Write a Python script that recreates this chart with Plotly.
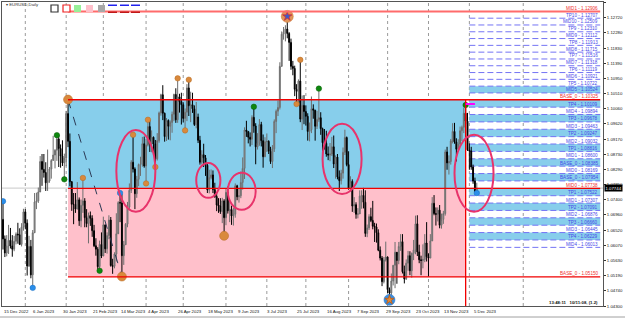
import plotly.graph_objects as go
import pandas as pd

# ---------------- data: EURUSD daily (15 Dec 2022 .. 7 Dec 2023) ----------------
first_open = 1.0683
closes = [
    1.0626,1.0585,1.0605,1.0622,1.0605,1.0596,1.0619,1.0640,1.0638,1.0610,1.0661,1.0705,
    1.0672,1.0547,1.0604,1.0521,1.0644,1.0734,1.0737,1.0763,1.0852,1.0829,1.0820,1.0790,1.0795,1.0830,1.0855,1.0871,1.0885,1.0918,1.0890,1.0868,1.0848,1.0862,
    1.0992,1.0911,1.0793,1.0727,1.0727,1.0713,1.0740,1.0679,1.0724,1.0737,1.0688,1.0671,1.0694,1.0686,1.0650,1.0606,1.0596,1.0545,1.0610,1.0576,
    1.0667,1.0597,1.0636,1.0681,1.0548,1.0546,1.0582,1.0641,1.0732,1.0731,1.0577,1.0609,1.0669,1.0719,1.0768,1.0850,1.0830,1.0758,1.0800,1.0843,1.0844,1.0904,1.0839,
    1.0900,1.0954,1.0903,1.0923,1.0903,1.0860,1.0913,1.0994,1.1047,1.0993,1.0925,1.0972,1.0955,1.0966,1.0990,1.1048,1.0974,1.1041,1.1027,1.1018,
    1.0978,1.0996,1.1067,1.1015,1.1018,1.1006,1.0960,1.0982,1.0914,1.0850,1.0872,1.0863,1.0841,1.0769,1.0805,1.0813,1.0770,1.0750,1.0725,1.0722,1.0706,1.0737,1.0688,
    1.0762,1.0708,1.0712,1.0693,1.0698,1.0781,1.0749,1.0752,1.0791,1.0832,1.0944,1.0940,1.0923,1.0917,1.0981,1.0956,1.0895,1.0905,1.0960,1.0913,1.0866,1.0910,
    1.0911,1.0882,1.0852,1.0889,1.0969,1.0999,1.1010,1.1130,1.1224,1.1230,1.1239,1.1226,1.1200,1.1130,1.1124,1.1063,1.1057,1.1087,1.0976,1.1016,1.0998,
    1.0984,1.0940,1.0945,1.1006,1.1002,1.0955,1.0975,1.0980,1.0948,1.0907,1.0905,1.0874,1.0871,1.0874,1.0895,1.0845,1.0865,1.0807,1.0796,1.0818,1.0879,1.0922,1.0843,
    1.0772,1.0794,1.0722,1.0726,1.0698,1.0699,1.0751,1.0753,1.0733,1.0642,1.0658,1.0691,1.0680,1.0663,1.0661,1.0644,1.0593,1.0570,1.0501,1.0565,1.0573,
    1.0478,1.0468,1.0503,1.0549,1.0587,1.0563,1.0604,1.0618,1.0530,1.0509,1.0555,1.0577,1.0533,1.0584,1.0594,1.0670,1.0588,1.0565,1.0563,1.0566,1.0614,1.0574,
    1.0570,1.0620,1.0730,1.0700,1.0698,1.0710,1.0666,1.0683,1.0700,1.0880,1.0848,1.0852,1.0912,1.0940,1.0909,1.0888,1.0903,1.0942,1.0952,1.0993,1.0970,1.0886,
    1.0883,1.0836,1.0795,1.0763,1.0774,
]
highs = [
    1.0736,1.0636,1.0637,1.0667,1.0658,1.0637,1.0635,1.0645,1.0673,1.0657,1.0672,1.0714,
    1.0713,1.0683,1.0635,1.0623,1.0652,1.0760,1.0761,1.0776,1.0868,1.0874,1.0874,1.0850,1.0887,1.0836,1.0859,1.0927,1.0888,1.0929,1.0929,1.0902,1.0914,1.0875,
    1.1000,1.1033,1.0934,1.0795,1.0760,1.0760,1.0792,1.0747,1.0741,1.0804,1.0745,1.0713,1.0703,1.0706,1.0695,1.0667,1.0628,1.0602,1.0621,1.0645,
    1.0691,1.0667,1.0645,1.0695,1.0690,1.0568,1.0587,1.0701,1.0736,1.0760,1.0757,1.0620,1.0672,1.0734,1.0788,1.0856,1.0930,1.0835,1.0810,1.0846,1.0866,1.0924,1.0925,
    1.0918,1.0974,1.0974,1.0943,1.0925,1.0915,1.0935,1.0998,1.1050,1.1075,1.0995,1.0979,1.0975,1.0972,1.0998,1.1050,1.1066,1.1095,1.1050,1.1053,
    1.1025,1.1007,1.1078,1.1091,1.1056,1.1053,1.1016,1.1026,1.0992,1.0927,1.0885,1.0904,1.0871,1.0847,1.0828,1.0829,1.0826,1.0790,1.0762,1.0745,1.0745,1.0746,1.0742,
    1.0772,1.0779,1.0734,1.0723,1.0717,1.0788,1.0784,1.0774,1.0823,1.0864,1.0952,1.0971,1.0940,1.0937,1.0987,1.1012,1.0964,1.0935,1.0976,1.0968,1.0931,1.0923,
    1.0934,1.0914,1.0895,1.0900,1.0975,1.1004,1.1030,1.1142,1.1232,1.1245,1.1250,1.1276,1.1230,1.1211,1.1146,1.1132,1.1078,1.1092,1.1149,1.1045,1.1046,
    1.1016,1.0993,1.0966,1.1042,1.1019,1.1003,1.1000,1.1065,1.0996,1.0951,1.0947,1.0942,1.0896,1.0906,1.0924,1.0928,1.0870,1.0874,1.0826,1.0828,1.0893,1.0945,1.0925,
    1.0882,1.0809,1.0800,1.0748,1.0733,1.0716,1.0768,1.0768,1.0775,1.0768,1.0668,1.0698,1.0717,1.0737,1.0673,1.0671,1.0654,1.0604,1.0576,1.0573,1.0618,
    1.0575,1.0484,1.0525,1.0549,1.0617,1.0578,1.0617,1.0640,1.0640,1.0548,1.0566,1.0591,1.0590,1.0586,1.0623,1.0694,1.0695,1.0609,1.0577,1.0610,1.0640,1.0675,
    1.0584,1.0640,1.0748,1.0754,1.0718,1.0718,1.0725,1.0700,1.0708,1.0887,1.0895,1.0870,1.0918,1.0964,1.0965,1.0920,1.0917,1.0954,1.0957,1.1009,1.1017,1.0994,
    1.0905,1.0895,1.0843,1.0805,1.0790,
]
lows = [
    1.0595,1.0573,1.0575,1.0582,1.0598,1.0574,1.0590,1.0610,1.0612,1.0608,1.0604,1.0650,
    1.0654,1.0519,1.0544,1.0511,1.0483,1.0646,1.0713,1.0731,1.0764,1.0781,1.0805,1.0766,1.0766,1.0790,1.0802,1.0855,1.0832,1.0854,1.0836,1.0834,1.0839,1.0800,
    1.0838,1.0894,1.0780,1.0708,1.0669,1.0702,1.0713,1.0664,1.0660,1.0702,1.0660,1.0660,1.0613,1.0664,1.0632,1.0602,1.0577,1.0536,1.0533,1.0570,
    1.0577,1.0585,1.0583,1.0625,1.0545,1.0524,1.0540,1.0560,1.0645,1.0675,1.0516,1.0550,1.0610,1.0660,1.0710,1.0760,1.0820,1.0713,1.0746,1.0780,1.0810,1.0837,1.0834,
    1.0788,1.0896,1.0880,1.0879,1.0878,1.0836,1.0855,1.0907,1.0986,1.0973,1.0910,1.0912,1.0916,1.0914,1.0936,1.0970,1.0965,1.0965,1.0995,1.0960,
    1.0966,1.0943,1.0970,1.0985,1.0967,1.0994,1.0956,1.0949,1.0906,1.0843,1.0844,1.0836,1.0810,1.0760,1.0759,1.0800,1.0760,1.0746,1.0707,1.0702,1.0699,1.0672,1.0635,
    1.0666,1.0700,1.0675,1.0667,1.0665,1.0688,1.0739,1.0732,1.0745,1.0770,1.0801,1.0924,1.0905,1.0896,1.0900,1.0936,1.0844,1.0887,1.0898,1.0896,1.0834,1.0865,
    1.0880,1.0874,1.0845,1.0833,1.0880,1.0935,1.0985,1.1004,1.1132,1.1208,1.1203,1.1212,1.1146,1.1120,1.1104,1.1043,1.1020,1.1022,1.0967,1.0944,1.0961,
    1.0957,1.0913,1.0911,1.0935,1.0977,1.0913,1.0947,1.0968,1.0930,1.0878,1.0887,1.0866,1.0856,1.0853,1.0868,1.0833,1.0802,1.0800,1.0766,1.0785,1.0802,1.0871,1.0838,
    1.0770,1.0770,1.0705,1.0702,1.0685,1.0686,1.0700,1.0714,1.0715,1.0632,1.0631,1.0652,1.0675,1.0654,1.0617,1.0615,1.0590,1.0563,1.0488,1.0496,1.0560,
    1.0468,1.0448,1.0448,1.0490,1.0482,1.0495,1.0552,1.0591,1.0525,1.0496,1.0506,1.0533,1.0520,1.0513,1.0564,1.0581,1.0576,1.0555,1.0520,1.0540,1.0558,1.0560,
    1.0516,1.0570,1.0621,1.0695,1.0665,1.0677,1.0657,1.0656,1.0670,1.0694,1.0828,1.0814,1.0843,1.0905,1.0904,1.0852,1.0887,1.0898,1.0912,1.0935,1.0961,1.0883,
    1.0828,1.0828,1.0787,1.0765,1.0760,
]
current_price = 1.07744

# time-axis labels
x_label_dates = ["2022-12-15","2023-01-06","2023-01-30","2023-02-21","2023-03-14","2023-04-04",
                 "2023-04-26","2023-05-18","2023-06-09","2023-07-03","2023-07-25","2023-08-16",
                 "2023-09-07","2023-09-29","2023-10-23","2023-11-13","2023-12-05"]
x_label_texts = ["15 Dec 2022","6 Jan 2023","30 Jan 2023","21 Feb 2023","14 Mar 2023","4 Apr 2023",
                 "26 Apr 2023","18 May 2023","9 Jun 2023","3 Jul 2023","25 Jul 2023","16 Aug 2023",
                 "7 Sep 2023","29 Sep 2023","23 Oct 2023","13 Nov 2023","5 Dec 2023"]
separator_dates = ["2023-01-02","2023-02-01","2023-03-01","2023-04-03","2023-05-01","2023-06-01",
                   "2023-07-03","2023-08-01","2023-09-01","2023-10-02","2023-11-01","2023-12-01","2024-01-01"]

# price-axis labels
y_ticks = [1.13180,1.12720,1.12280,1.11830,1.11390,1.10950,1.10510,1.10060,1.09620,1.09170,
           1.08730,1.08290,1.07850,1.07400,1.06960,1.06520,1.06070,1.05630,1.05190,1.04740,1.04300]

# swing markers
marker_dates = ["2022-12-15","2023-01-06","2023-01-25","2023-01-31","2023-02-02","2023-02-14",
                "2023-02-27","2023-03-15","2023-03-14","2023-03-23","2023-04-03","2023-04-04",
                "2023-04-10","2023-04-26","2023-05-02","2023-05-04","2023-05-31","2023-06-22",
                "2023-07-18","2023-07-25","2023-07-27","2023-08-10","2023-10-03","2023-11-29","2023-12-07"]
marker_prices = [1.0736,1.0483,1.0929,1.0800,1.1033,1.0804,
                 1.0533,1.0516,1.0760,1.0930,1.0788,1.0974,
                 1.0836,1.1095,1.0943,1.1091,1.0635,1.1012,
                 1.1276,1.1020,1.1149,1.1065,1.0448,1.1017,1.0760]
marker_kinds = ["blue","blue","green","green","orange_big","orange",
                "green","orange_big","blue","orange","orange","orange",
                "orange","orange","orange","orange","orange_big","green",
                "star_orange","orange","orange","green","star_blue","green","blue"]

# zone / level structure
zone_start, zone_end = "2023-02-02", "2023-11-29"
base_hi, mid0, base_lo, top_mid = 1.10325, 1.07738, 1.05150, 1.12906
level_names = ["MID1","TP10","MID10","TP9","MID9","TP8","MID8","TP7","MID7","TP6","MID6","TP5","MID5",
               "BASE_0","TP4","MID4","TP3","MID3","TP2","MID2","TP1","MID1","BASE_0","MID0","BASE_0",
               "MID0","TP1","MID1","TP2","MID2","TP3","MID3","TP4","MID4","BASE_0"]
level_values = [1.12906,1.12707,1.12509,1.12310,1.12112,1.11913,1.11715,1.11516,1.11318,1.11119,1.10921,1.10722,1.10524,
                1.10325,1.10109,1.09894,1.09678,1.09463,1.09247,1.09032,1.08816,1.08600,1.08385,1.08169,1.07954,
                1.07738,1.07522,1.07307,1.07091,1.06876,1.06660,1.06445,1.06229,1.06013,1.05150]
red_level_values = [1.12906, 1.10325, 1.07738, 1.05150]

# hand-drawn ellipses: (start date, end date, low price, high price)
ellipse_start = ["2023-03-10","2023-05-10","2023-06-02","2023-08-14","2023-11-21"]
ellipse_end   = ["2023-04-10","2023-05-29","2023-06-23","2023-09-12","2023-12-16"]
ellipse_low   = [1.0705,1.0746,1.0711,1.0757,1.0705]
ellipse_high  = [1.0944,1.0848,1.0819,1.0962,1.0930]

trend_dates = ["2023-02-02","2023-03-15"]
trend_prices = [1.1033, 1.0516]
magenta_dates = ["2023-11-29","2023-12-06"]
magenta_price = 1.1020

# ---------------- helpers ----------------
n = len(closes)
dates = pd.bdate_range("2022-12-15", periods=n)
pos = {d: i for i, d in enumerate(dates)}


def xi(d):
    d = pd.Timestamp(d)
    if d in pos:
        return pos[d]
    return n - 1 + (d - dates[-1]).days


opens = [first_open] + closes[:-1]
x = list(range(n))

W, H = 625, 319
ML, MR, MT, MB = 2, 22, 2, 13
PX_PER_BAR = 1.858
X0 = -0.54
X1 = X0 + (W - ML - MR) / PX_PER_BAR
Y0, Y1 = 1.0430, 1.1318
FONT = "Liberation Sans Narrow, Liberation Sans, Arial, sans-serif"


def px2paper(px, py):
    return (px - ML) / (W - ML - MR), 1 - (py - MT) / (H - MT - MB)


fig = go.Figure()

fig.add_trace(go.Candlestick(
    x=x, open=opens, high=highs, low=lows, close=closes,
    increasing=dict(line=dict(color="#6E6E6E", width=1), fillcolor="#A8A8A8"),
    decreasing=dict(line=dict(color="#000000", width=1), fillcolor="#000000"),
    whiskerwidth=0, showlegend=False, hoverinfo="skip"))

# trend dashed line
fig.add_trace(go.Scatter(x=[xi(d) for d in trend_dates], y=trend_prices, mode="lines",
                         line=dict(color="#2B3A55", width=1, dash="dash"),
                         showlegend=False, hoverinfo="skip"))

# markers
style = {
    "orange": dict(color="#D9893C", size=5.5, line=dict(color="#B56A22", width=0.5)),
    "orange_big": dict(color="#D9893C", size=9, line=dict(color="#B56A22", width=0.5)),
    "green": dict(color="#0E870E", size=5.5, line=dict(color="#0A5F0A", width=0.5)),
    "blue": dict(color="#2A8EEA", size=5.5, line=dict(color="#1A6FC0", width=0.5)),
    "star_orange": dict(color="#E0955A", size=12, line=dict(color="#C47530", width=0.5)),
    "star_blue": dict(color="#3A8EE0", size=11, line=dict(color="#2A70C0", width=0.5)),
}
for kind, st in style.items():
    xs = [xi(d) for d, k in zip(marker_dates, marker_kinds) if k == kind]
    ys = [p for p, k in zip(marker_prices, marker_kinds) if k == kind]
    if xs:
        fig.add_trace(go.Scatter(x=xs, y=ys, mode="markers", marker=dict(symbol="circle", **st),
                                 showlegend=False, hoverinfo="skip"))
for kind, col, lc in [("star_orange", "#3A5CCB", "#E0302A"), ("star_blue", "#E08A3A", "#C05A10")]:
    xs = [xi(d) for d, k in zip(marker_dates, marker_kinds) if k == kind]
    ys = [p for p, k in zip(marker_prices, marker_kinds) if k == kind]
    fig.add_trace(go.Scatter(x=xs, y=ys, mode="markers",
                             marker=dict(symbol="star", size=7, color=col, line=dict(color=lc, width=0.8)),
                             showlegend=False, hoverinfo="skip"))

shapes = []
zs, ze = xi(zone_start), xi(zone_end)
# month separators (under the zones)
for d in separator_dates:
    xv = xi(d)
    shapes.append(dict(type="line", xref="x", yref="paper", x0=xv, x1=xv, y0=0, y1=1,
                       line=dict(color="#9A9A9A", width=1, dash="dot"), layer="below"))
# zones
shapes.append(dict(type="rect", xref="x", yref="y", x0=zs, x1=ze, y0=mid0, y1=base_hi,
                   fillcolor="#87CEEB", line=dict(width=0), layer="below"))
shapes.append(dict(type="rect", xref="x", yref="y", x0=zs, x1=ze, y0=base_lo, y1=mid0,
                   fillcolor="#FFC0CB", line=dict(width=0), layer="below"))
# right-hand level bands + dashed lines
band_start = xi("2023-12-01")
band_pairs = list(range(11, 32, 2))
for i in band_pairs:
    shapes.append(dict(type="rect", xref="x", yref="y", x0=band_start, x1=X1 - 1.5,
                       y0=level_values[i + 1], y1=level_values[i],
                       fillcolor="#87CEEB", line=dict(width=0), layer="below"))
for name, v in zip(level_names, level_values):
    if v in red_level_values:
        continue
    shapes.append(dict(type="line", xref="x", yref="y", x0=band_start, x1=X1 - 1.5, y0=v, y1=v,
                       line=dict(color="#7474F4", width=1, dash="6px,3px"), layer="below"))
# current price line
shapes.append(dict(type="line", xref="paper", yref="y", x0=0, x1=1, y0=current_price, y1=current_price,
                   line=dict(color="#C8C8C8", width=1), layer="below"))
# red level lines
for v in red_level_values:
    col, wd = ("#FF6B6B", 2) if v == top_mid else ("#F00000", 1.3)
    shapes.append(dict(type="line", xref="x", yref="y", x0=zs, x1=X1 - 1.5, y0=v, y1=v,
                       line=dict(color=col, width=wd)))
# vertical red line at zone end
shapes.append(dict(type="line", xref="x", yref="y", x0=ze, x1=ze, y0=Y0, y1=base_hi,
                   line=dict(color="#F00000", width=1.3)))
# magenta marker
shapes.append(dict(type="line", xref="x", yref="y", x0=xi(magenta_dates[0]), x1=xi(magenta_dates[1]),
                   y0=magenta_price, y1=magenta_price, line=dict(color="#FF00FF", width=2)))
# ellipses
for s, e, lo, hi in zip(ellipse_start, ellipse_end, ellipse_low, ellipse_high):
    shapes.append(dict(type="circle", xref="x", yref="y", x0=xi(s), x1=xi(e), y0=lo, y1=hi,
                       line=dict(color="#E8336B", width=2)))


# toolbar icons (top-left)
def icon_rect(px0, py0, px1, py1, **kw):
    a, b = px2paper(px0, py0)
    c, d = px2paper(px1, py1)
    shapes.append(dict(type="rect", xref="paper", yref="paper", x0=a, x1=c, y0=d, y1=b, **kw))


icon_rect(51, 5, 58, 12, line=dict(color="#333333", width=1.2), fillcolor="white")
icon_rect(63, 5, 70, 12, line=dict(color="#EE2222", width=1.2), fillcolor="white")
icon_rect(74, 5, 81, 12, line=dict(width=0), fillcolor="#98F098")
icon_rect(86, 5, 93, 12, line=dict(width=0), fillcolor="#FFC0CB")
icon_rect(98, 5, 105, 12, line=dict(width=0), fillcolor="#A8A8A8")
for px in (108, 120, 131):
    icon_rect(px, 4.5, px + 9, 6, line=dict(width=0), fillcolor="#2222EE")
    icon_rect(px, 11.5, px + 9, 13, line=dict(width=0), fillcolor="#C01818")
# outer bottom border
a, b = px2paper(0, 317)
shapes.append(dict(type="line", xref="paper", yref="paper", x0=-0.01, x1=1.04, y0=b, y1=b,
                   line=dict(color="#A0A0A0", width=1)))

annotations = []
# x labels
ylab = px2paper(0, 307)[1]
for d, t in zip(x_label_dates, x_label_texts):
    xp = (xi(d) - X0) / (X1 - X0)
    annotations.append(dict(x=xp, y=ylab, xref="paper", yref="paper", text=t, showarrow=False,
                            xanchor="left", yanchor="top", xshift=-1.5,
                            font=dict(size=4.3, color="#111111", family=FONT)))
# level labels
xr = px2paper(600, 0)[0]
for name, v in zip(level_names, level_values):
    red = v in red_level_values
    annotations.append(dict(x=xr, y=v, xref="paper", yref="y", text=f"{name} - {v:.5f}", showarrow=False,
                            xanchor="right", yanchor="bottom", yshift=-1.5,
                            font=dict(size=4.6, color="#F03030" if red else "#4848E8", family=FONT)))
# current price box
annotations.append(dict(x=1.0, y=current_price, xref="paper", yref="y", text=f"{current_price:.5f}",
                        showarrow=False, xanchor="left", yanchor="middle", xshift=1,
                        bgcolor="#000000", borderpad=0.5,
                        font=dict(size=4.3, color="white", family=FONT)))
# title
tx, ty = px2paper(4, 5)
annotations.append(dict(x=tx, y=ty, xref="paper", yref="paper", text="▾ EURUSD,Daily", showarrow=False,
                        xanchor="left", yanchor="middle", font=dict(size=4.3, color="#333333", family=FONT)))
# time stamp
tx, ty = px2paper(600, 302)
annotations.append(dict(x=tx, y=ty, xref="paper", yref="paper", text="<b>13:48:11   10/11:08, (1.2)</b>",
                        showarrow=False, xanchor="right", yanchor="middle",
                        font=dict(size=4.3, color="#111111", family=FONT)))

fig.update_layout(
    width=W, height=H, margin=dict(l=ML, r=MR, t=MT, b=MB, pad=0),
    paper_bgcolor="white", plot_bgcolor="white",
    shapes=shapes, annotations=annotations, showlegend=False,
    xaxis=dict(range=[X0, X1], showgrid=False, zeroline=False, showticklabels=False, ticks="",
               showline=True, mirror=True, linecolor="#555555", linewidth=1,
               rangeslider=dict(visible=False), fixedrange=True),
    yaxis=dict(range=[Y0, Y1], side="right", showgrid=False, zeroline=False,
               tickvals=y_ticks, ticktext=[f"{v:.5f}" for v in y_ticks],
               tickfont=dict(size=4.3, color="#111111", family=FONT), ticks="outside", ticklen=2,
               tickcolor="#333333", showline=True, mirror=True, linecolor="#555555", linewidth=1,
               fixedrange=True),
)

fig.write_html("out.html")
